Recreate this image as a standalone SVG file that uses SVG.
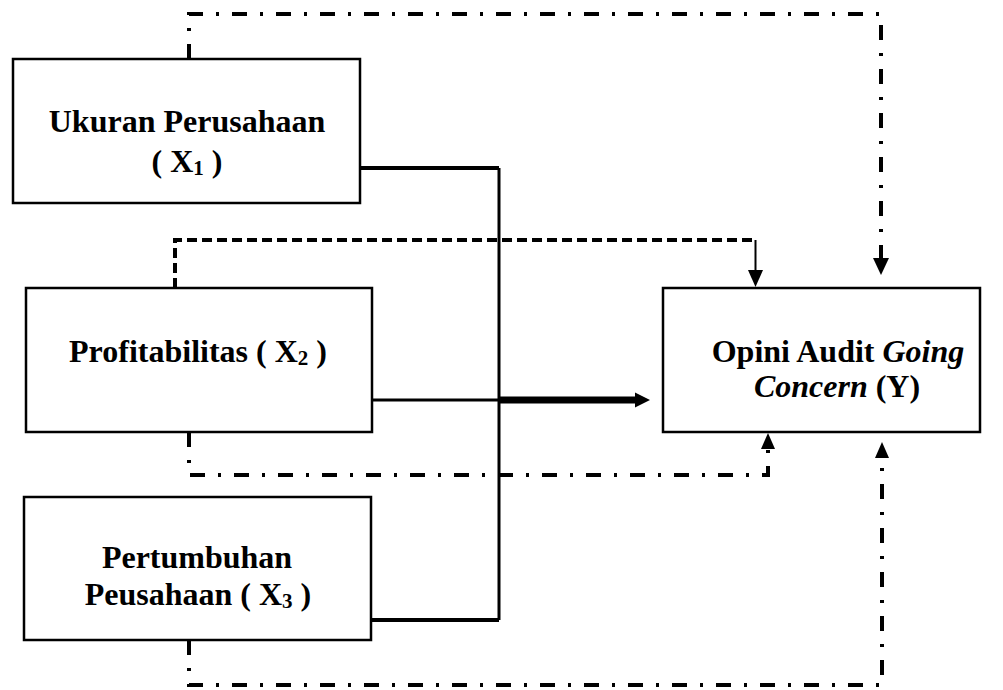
<svg xmlns="http://www.w3.org/2000/svg" width="1003" height="690" viewBox="0 0 1003 690">
<style>
.box{fill:#fff;stroke:#000;stroke-width:2.5}
.t{font-family:"Liberation Serif","Times New Roman",serif;font-weight:bold;font-size:32px;fill:#000;text-anchor:middle}
.sub{font-size:21px}
.dd{fill:none;stroke:#000;stroke-width:4;stroke-dasharray:15 13 3 13}
.ds{fill:none;stroke:#000;stroke-width:4;stroke-dasharray:10 5}
.sl{fill:none;stroke:#000}
</style>
<rect width="1003" height="690" fill="#fff"/>
<g id="connectors">
<path class="sl" d="M360,168 H499" stroke-width="4"/>
<path class="sl" d="M499,168 V620" stroke-width="3"/>
<path class="sl" d="M371,620 H499" stroke-width="4"/>
<path class="sl" d="M372,400 H499" stroke-width="3"/>
<path class="sl" d="M499,400 H637" stroke-width="7"/>
<polygon points="635,392.5 650,400 635,407.5"/>
<path class="dd" d="M189,59 V14 H881 V258"/>
<polygon points="873,258 889,258 881,275"/>
<path class="ds" d="M175,288 V240 H755"/>
<path class="sl" d="M755.5,240 V271" stroke-width="2"/>
<polygon points="748,270 763,270 755.5,287"/>
<path class="dd" d="M189,432 V475 H768 V448"/>
<polygon points="761,449 775,449 768,433"/>
<path class="dd" d="M189,640 V685 H882 V457"/>
<polygon points="875,458 889,458 882,442"/>
</g>
<g id="x1">
<rect class="box" x="13" y="59" width="347" height="144"/>
<text class="t" x="187" y="132">Ukuran Perusahaan</text>
<text class="t" x="187" y="172">( X<tspan class="sub" dy="3">1</tspan><tspan dy="-3"> )</tspan></text>
</g>
<g id="x2">
<rect class="box" x="26" y="288" width="346" height="144"/>
<text class="t" x="198" y="362">Profitabilitas ( X<tspan class="sub" dy="3">2</tspan><tspan dy="-3"> )</tspan></text>
</g>
<g id="x3">
<rect class="box" x="24" y="497" width="347" height="143"/>
<text class="t" x="197" y="568">Pertumbuhan</text>
<text class="t" x="198" y="605">Peusahaan ( X<tspan class="sub" dy="3">3</tspan><tspan dy="-3"> )</tspan></text>
</g>
<g id="y">
<rect class="box" x="663" y="288" width="317" height="144"/>
<text class="t" x="838" y="362">Opini Audit <tspan font-style="italic">Going</tspan></text>
<text class="t" x="837" y="397"><tspan font-style="italic">Concern</tspan> (Y)</text>
</g>
</svg>
